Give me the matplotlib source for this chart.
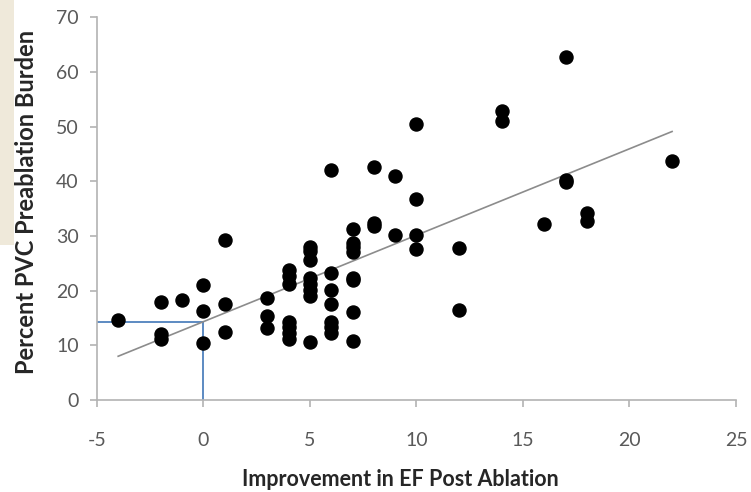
import numpy as np
import matplotlib.pyplot as plt
from matplotlib.patches import Rectangle

plt.rcParams['axes.unicode_minus'] = False

# improvement in EF (x) and PVC burden (y)
ef_gain = [-4,
           -2, -2, -2,
           -1,
           0, 0, 0,
           1, 1, 1,
           3, 3, 3,
           4, 4, 4, 4, 4, 4, 4,
           5, 5, 5, 5, 5, 5, 5, 5,
           6, 6, 6, 6, 6, 6, 6,
           7, 7, 7, 7, 7, 7, 7, 7,
           8, 8, 8,
           9, 9,
           10, 10, 10, 10,
           12, 12,
           14, 14,
           16,
           17, 17, 17,
           18, 18,
           22]
pvc_burden = [14.7,
              17.9, 12.0, 11.1,
              18.2,
              21.1, 16.2, 10.5,
              29.2, 17.6, 12.4,
              18.7, 15.3, 13.1,
              23.8, 22.7, 21.3, 14.3, 13.3, 12.2, 11.2,
              28.0, 27.2, 25.6, 22.4, 21.2, 20.2, 19.1, 10.6,
              42.1, 23.3, 20.1, 17.5, 14.3, 13.3, 12.2,
              31.2, 28.8, 28.0, 27.1, 22.4, 21.9, 16.1, 10.8,
              42.6, 32.4, 31.9,
              40.9, 30.1,
              50.4, 36.8, 30.1, 27.7,
              27.8, 16.5,
              52.9, 51.1,
              32.1,
              62.7, 40.2, 39.8,
              34.2, 32.8,
              43.7]

# trend line ends as drawn in the picture
trend_x = [-4, 22]
trend_y = [8.0, 49.1]

x_ticks = [-5, 0, 5, 10, 15, 20, 25]
y_ticks = [0, 10, 20, 30, 40, 50, 60, 70]

# value of the trend line at x = 0, used for the blue guide lines
guide_y = np.interp(0, trend_x, trend_y)

fig = plt.figure(figsize=(7.51, 4.92), dpi=100)
ax = fig.add_axes([0.129, 0.187, 0.851, 0.778])

# leftover strip of the neighbouring slide at the left edge
fig.patches.append(Rectangle((0, 0.502), 0.019, 0.5, transform=fig.transFigure,
                             facecolor='#efe9da', edgecolor='none', zorder=0))

ax.plot([-5, 0], [guide_y, guide_y], color='#4f81bd', lw=1.3, zorder=2)
ax.plot([0, 0], [0, guide_y], color='#4f81bd', lw=1.3, zorder=2)

ax.plot(trend_x, trend_y, color='#8c8c8c', lw=1.2, zorder=3)
ax.plot(ef_gain, pvc_burden, 'o', color='black', ms=9.4, zorder=4)

ax.set_xlim(-5, 25)
ax.set_ylim(0, 70)
ax.set_xticks(x_ticks)
ax.set_yticks(y_ticks)

for side in ['top', 'right']:
    ax.spines[side].set_visible(False)
for side in ['left', 'bottom']:
    ax.spines[side].set_color('#b3b3b3')
    ax.spines[side].set_linewidth(1.2)

ax.tick_params(colors='#b3b3b3', labelcolor='#595959', labelsize=14,
               length=5, width=1.2, direction='out')
ax.tick_params(axis='x', pad=18)
ax.tick_params(axis='y', pad=8)
for lab in ax.get_xticklabels() + ax.get_yticklabels():
    lab.set_family('Lato')

fig.text(400 / 751, 1 - 480 / 492, 'Improvement in EF Post Ablation',
         family='Lato', fontsize=15.5, fontweight='bold', color='#262626',
         ha='center', va='center')
fig.text(27 / 751, 1 - 202 / 492, 'Percent PVC Preablation Burden',
         family='Lato', fontsize=17, fontweight='bold', color='#262626',
         ha='center', va='center', rotation=90)

fig.savefig('out.png', dpi=100)
